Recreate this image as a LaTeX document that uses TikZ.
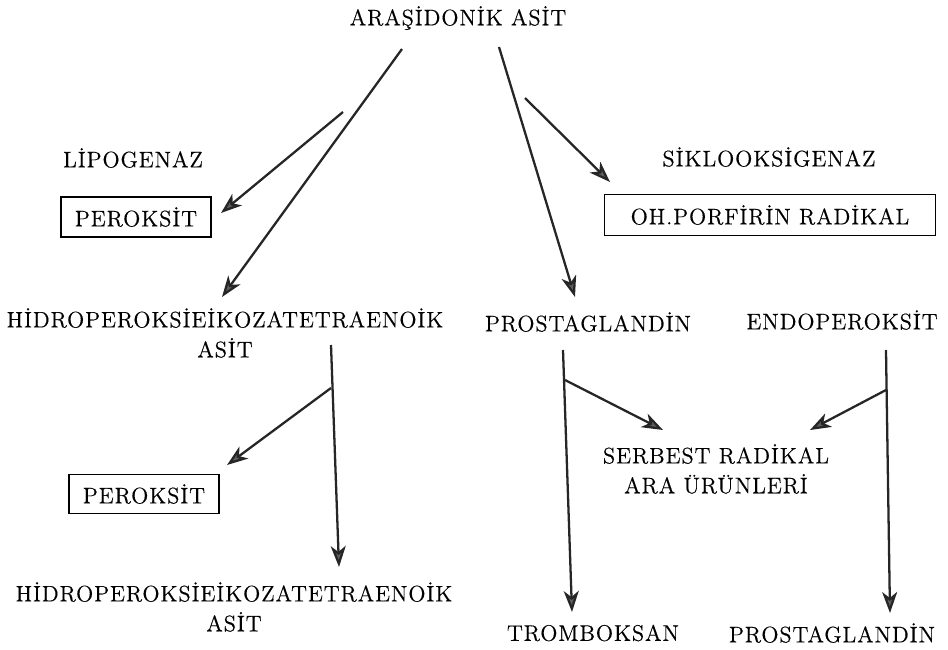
\documentclass[tikz,border=0pt]{standalone}
\usepackage{fontspec}
\setmainfont{Latin Modern Roman}[LetterSpace=4, FakeBold=0.4]
\usetikzlibrary{arrows.meta, positioning}
\definecolor{headgray}{RGB}{95,95,95}

\begin{document}
\begin{tikzpicture}[x=0.02cm, y=-0.02cm,
    lbl/.style={align=center, inner sep=1pt, font=\fontsize{12.8}{17}\selectfont},
    kutu/.style={lbl, draw=black, line width=0.7pt, minimum height=0.8cm},
    arrow/.style={-{Stealth[length=4.2mm, width=3mm, inset=1.2mm, fill=headgray]},
      line width=1.3pt, black!85}]
    \useasboundingbox (0,0) rectangle (948,650);
    % metinler
    \node[lbl] (ara) at (458,18) {ARAŞİDONİK ASİT};
    \node[lbl] (lipo) at (133,158) {LİPOGENAZ};
    \node[lbl] (siklo) at (769,157) {SİKLOOKSİGENAZ};
    \node[kutu, minimum width=3cm] (per1) at (136,217) {PEROKSİT};
    \node[kutu, minimum width=6.62cm, minimum height=0.82cm] (ohp) at (770,215) {OH.PORFİRİN RADİKAL};
    \node[lbl] (hpeta1) at (225,333) {HİDROPEROKSİEİKOZATETRAENOİK\\ASİT};
    \node[lbl] (pg1) at (588,322) {PROSTAGLANDİN};
    \node[lbl] (endo) at (842,320) {ENDOPEROKSİT};
    \node[kutu, minimum width=3cm, minimum height=0.78cm] (per2) at (144,494) {PEROKSİT};
    \node[lbl] (serb) at (716,469) {SERBEST RADİKAL\\ARA ÜRÜNLERİ};
    \node[lbl] (hpeta2) at (234,607) {HİDROPEROKSİEİKOZATETRAENOİK\\ASİT};
    \node[lbl] (tromb) at (593,633) {TROMBOKSAN};
    \node[lbl] (pg2) at (832,633) {PROSTAGLANDİN};
    % ok uclari
    \coordinate (araL) at (402,49);
    \coordinate (hpetaIn) at (222,297);
    \coordinate (lipoS) at (343,112);
    \coordinate (per1In) at (221,213);
    \coordinate (araR) at (499,47);
    \coordinate (pg1In) at (575,297);
    \coordinate (sikloS) at (525,98);
    \coordinate (ohpIn) at (610,182);
    \coordinate (hpetaOut) at (331,345);
    \coordinate (hpetaBr) at (331,388);
    \coordinate (hpeta2In) at (339,567);
    \coordinate (per2In) at (227,465);
    \coordinate (pg1Out) at (563,350);
    \coordinate (pg1Br) at (565,380);
    \coordinate (trombIn) at (572,612);
    \coordinate (serbInL) at (663,430);
    \coordinate (endoOut) at (886,350);
    \coordinate (endoBr) at (886,390);
    \coordinate (pg2In) at (890,613);
    \coordinate (serbInR) at (810,430);
    % oklar
    \draw[arrow] (araL) -- (hpetaIn);
    \draw[arrow] (lipoS) -- (per1In);
    \draw[arrow] (araR) -- (pg1In);
    \draw[arrow] (sikloS) -- (ohpIn);
    \draw[arrow] (hpetaOut) -- (hpeta2In);
    \draw[arrow] (hpetaBr) -- (per2In);
    \draw[arrow] (pg1Out) -- (trombIn);
    \draw[arrow] (pg1Br) -- (serbInL);
    \draw[arrow] (endoOut) -- (pg2In);
    \draw[arrow] (endoBr) -- (serbInR);
\end{tikzpicture}
\end{document}
